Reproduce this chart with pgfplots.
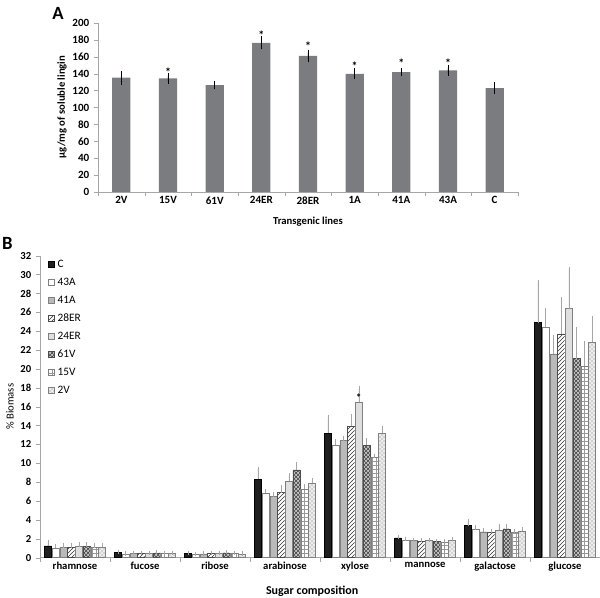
\documentclass[border=0pt]{standalone}
\usepackage{fontspec}
\setmainfont{Carlito}
\usepackage{pgfplots}
\usepackage{pgfplotstable}
\pgfplotsset{compat=1.18}
\usetikzlibrary{patterns}
\definecolor{barA}{HTML}{7B7C80}
\definecolor{axgray}{HTML}{A6A6A6}

% panel A: soluble lignin per line
\pgfplotstableread{
x  y     e
0  135.3 4.5
1  134.5 3.0
2  126.5 1.5
3  176.5 4.0
4  161.0 4.0
5  139.8 3.0
6  142.0 1.5
7  144.0 3.0
8  123.0 3.0
}\lignin

% panel B: sugar composition (% biomass), value and +error per line
\pgfplotstableread{
x C    Ce   Aa   Aae  Ab   Abe  Ea   Eae  Eb   Ebe  Va   Vae  Vb   Vbe  Vc   Vce
0 1.25 0.35 1.00 0.20 1.10 0.20 1.10 0.20 1.20 0.20 1.20 0.20 1.10 0.20 1.10 0.25
1 0.55 0.08 0.40 0.05 0.45 0.05 0.45 0.05 0.45 0.05 0.50 0.08 0.45 0.05 0.45 0.05
2 0.45 0.05 0.35 0.05 0.40 0.05 0.45 0.05 0.45 0.05 0.50 0.08 0.45 0.05 0.40 0.05
3 8.30 1.10 6.80 0.30 6.50 0.20 6.90 0.60 8.10 0.60 9.30 0.60 7.30 0.30 7.90 0.30
4 13.2 1.70 11.9 0.40 12.4 0.30 13.9 1.10 16.5 1.50 11.9 0.60 10.6 0.20 13.2 0.50
5 2.10 0.10 1.90 0.05 1.80 0.05 1.75 0.10 1.80 0.10 1.70 0.10 1.65 0.10 1.85 0.10
6 3.40 0.50 3.00 0.20 2.75 0.15 2.65 0.20 2.90 0.40 3.05 0.30 2.65 0.20 2.80 0.20
7 24.9 4.30 24.4 1.80 21.6 1.80 23.7 3.70 26.4 4.20 21.1 3.10 20.3 2.40 22.8 2.60
}\sugars

\pgfplotsset{
  errB/.style={
    /pgfplots/error bars/y dir=plus,
    /pgfplots/error bars/y explicit,
    /pgfplots/error bars/error bar style={gray!70, line width=0.5pt},
    /pgfplots/error bars/error mark options={gray!70, mark size=1.6pt, line width=0.5pt},
  },
}

\begin{document}
\begin{tikzpicture}
\path[use as bounding box] (0,0) rectangle (450pt,447.75pt);
\node[font=\bfseries\fontsize{14}{14}\selectfont] at (43.5pt,438pt) {A};
\node[font=\bfseries\fontsize{14}{14}\selectfont] at (5.5pt,265.5pt) {B};

\begin{axis}[
  at={(73.5pt,303.75pt)}, anchor=south west,
  scale only axis, width=315pt, height=126.75pt,
  ybar, bar width=13.7pt,
  xmin=-0.5, xmax=8.5, ymin=0, ymax=200,
  ytick={0,20,...,200},
  xtick={-0.5,0.5,1.5,2.5,3.5,4.5,5.5,6.5,7.5,8.5}, xticklabels={},
  extra x ticks={0,1,2,3,4,5,6,7,8},
  extra x tick labels={2V,15V,61V,24ER,28ER,1A,41A,43A,C},
  extra x tick style={major tick length=0pt},
  axis x line*=bottom, axis y line*=left,
  axis line style={axgray}, tick style={axgray},
  tick align=outside, major tick length=3pt,
  ticklabel style={font=\bfseries\fontsize{8.3}{9}\selectfont},
  /pgf/number format/assume math mode=true,
  xlabel={Transgenic lines},
  xlabel style={at={(axis description cs:0.5,-0.1775)}, anchor=center,
    font=\bfseries\fontsize{8}{9}\selectfont},
  ylabel={µg/mg of soluble lingin},
  ylabel style={at={(axis description cs:-0.0857,0.503)}, anchor=center,
    font=\bfseries\fontsize{8}{9}\selectfont},
]
\addplot[fill=barA, draw=none,
  error bars/.cd, y dir=both, y explicit,
  error bar style={black, line width=0.45pt},
  error mark options={black, mark size=2.3pt, line width=0.45pt}]
  table[x=x, y=y, y error=e] {\lignin};
\begin{scope}[font=\bfseries\fontsize{9}{9}\selectfont]
\node at (axis cs:1,141.5) {*};
\node at (axis cs:3,185.5) {*};
\node at (axis cs:4,172) {*};
\node at (axis cs:5,149) {*};
\node at (axis cs:6,152) {*};
\node at (axis cs:7,153) {*};
\end{scope}
\end{axis}

\begin{axis}[
  at={(30pt,29.5pt)}, anchor=south west,
  scale only axis, width=420pt, height=226.5pt,
  ybar=0.4pt, bar width=5.4pt,
  xmin=-0.5, xmax=7.5, ymin=0, ymax=32,
  ytick={0,2,...,32},
  xtick={-0.5,0.5,1.5,2.5,3.5,4.5,5.5,6.5,7.5}, xticklabels={},
  extra x ticks={0,1,2,3,4,5,6,7},
  extra x tick labels={rhamnose,fucose,ribose,arabinose,xylose,mannose,galactose,glucose},
  extra x tick style={major tick length=0pt},
  axis x line*=bottom, axis y line*=left,
  axis line style={axgray}, tick style={axgray},
  tick align=outside, major tick length=3pt,
  ticklabel style={font=\bfseries\fontsize{8}{9}\selectfont},
  /pgf/number format/assume math mode=true,
  xlabel={Sugar composition},
  xlabel style={at={(axis description cs:0.486,-0.11)}, anchor=center,
    font=\bfseries\fontsize{9}{10}\selectfont},
  ylabel={\% Biomass},
  ylabel style={at={(axis description cs:-0.0536,0.5)}, anchor=center,
    font=\fontsize{8}{9}\selectfont},
  area legend,
  legend image code/.code={\draw[#1] (0pt,-2.3pt) rectangle (4.6pt,2.3pt);},
  legend cell align=left,
  legend style={at={(0.012,1)}, anchor=north west, draw=none, fill=none,
    font=\fontsize{8.5}{9}\selectfont, row sep=2.4pt, inner sep=1pt},
]
\addplot[fill=black!88, draw=black, line width=0.3pt, errB]
  table[x=x, y=C, y error=Ce] {\sugars};
\addplot[fill=white, draw=gray, line width=0.3pt, errB]
  table[x=x, y=Aa, y error=Aae] {\sugars};
\addplot[fill=gray!55, draw=gray, line width=0.3pt, errB]
  table[x=x, y=Ab, y error=Abe] {\sugars};
\addplot[fill=white, draw=black!70, line width=0.3pt,
  postaction={pattern=north east lines, pattern color=black!80}, errB]
  table[x=x, y=Ea, y error=Eae] {\sugars};
\addplot[fill=gray!25, draw=gray, line width=0.3pt, errB]
  table[x=x, y=Eb, y error=Ebe] {\sugars};
\addplot[fill=gray!45, draw=black!70, line width=0.3pt,
  postaction={pattern=crosshatch, pattern color=black!75}, errB]
  table[x=x, y=Va, y error=Vae] {\sugars};
\addplot[fill=white, draw=gray, line width=0.3pt,
  postaction={pattern=grid, pattern color=gray!80}, errB]
  table[x=x, y=Vb, y error=Vbe] {\sugars};
\addplot[fill=gray!15, draw=gray, line width=0.3pt,
  postaction={pattern=crosshatch dots, pattern color=gray}, errB]
  table[x=x, y=Vc, y error=Vce] {\sugars};
\legend{C,43A,41A,28ER,24ER,61V,15V,2V}
\node[font=\bfseries\fontsize{8}{8}\selectfont] at (axis cs:4.055,17.0) {*};
\end{axis}
\end{tikzpicture}
\end{document}
